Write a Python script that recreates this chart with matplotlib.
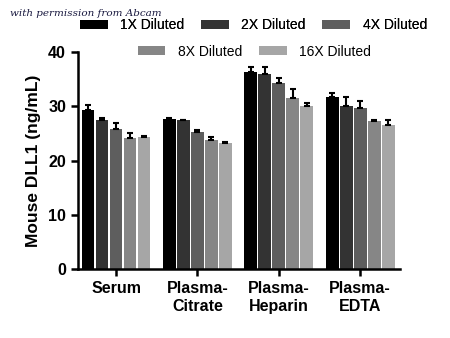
import numpy as np
import matplotlib.pyplot as plt
from matplotlib.patches import Patch

# ============================================================
# Data
# ============================================================
SAMPLES = ["Serum", "Plasma-\nCitrate", "Plasma-\nHeparin", "Plasma-\nEDTA"]
DILUTIONS = ["1X Diluted", "2X Diluted", "4X Diluted", "8X Diluted", "16X Diluted"]

MEAN_1X = [29.3, 27.6, 36.3, 31.7]
MEAN_2X = [27.4, 27.4, 35.9, 30.1]
MEAN_4X = [25.8, 25.3, 34.3, 29.6]
MEAN_8X = [24.2, 23.7, 31.5, 27.3]
MEAN_16X = [24.3, 23.3, 30.0, 26.6]

ERR_1X = [0.9, 0.3, 0.9, 0.7]
ERR_2X = [0.4, 0.1, 1.4, 1.6]
ERR_4X = [1.1, 0.3, 0.9, 1.3]
ERR_8X = [0.9, 0.7, 1.7, 0.2]
ERR_16X = [0.2, 0.1, 0.6, 0.9]

COLORS = ["#000000", "#333333", "#5e5e5e", "#868686", "#a6a6a6"]

plt.rcParams['font.family'] = ['Liberation Sans', 'DejaVu Sans']

# ============================================================
# Plot
# ============================================================
fig = plt.figure(figsize=(4.5, 3.38), dpi=100)
ax = fig.add_axes([0.173, 0.204, 0.716, 0.642])

means = [MEAN_1X, MEAN_2X, MEAN_4X, MEAN_8X, MEAN_16X]
errs = [ERR_1X, ERR_2X, ERR_4X, ERR_8X, ERR_16X]

x = np.arange(len(SAMPLES))
pitch = 0.172
width = 0.156

handles = []
for k, (m, e) in enumerate(zip(means, errs)):
    pos = x + (k - 2) * pitch
    ax.bar(pos, m, width=width, color=COLORS[k], zorder=2)
    ax.errorbar(pos, m, yerr=[np.zeros(len(e)), e], fmt='none',
                ecolor='black', elinewidth=1.5, capsize=2.2, capthick=1.5,
                zorder=3)
    handles.append(Patch(facecolor=COLORS[k], label=DILUTIONS[k]))

ax.set_xlim(-0.47, 3.49)
ax.set_ylim(0, 40)
ax.set_yticks([0, 10, 20, 30, 40])
ax.set_xticks(x)
ax.set_xticklabels(SAMPLES, fontsize=11.5, fontweight='bold', linespacing=1.25)
ax.tick_params(axis='y', labelsize=11.5, width=1.8, length=5)
ax.tick_params(axis='x', width=1.8, length=5)
for lab in ax.get_yticklabels():
    lab.set_fontweight('bold')

for side in ["top", "right"]:
    ax.spines[side].set_visible(False)
for side in ["left", "bottom"]:
    ax.spines[side].set_linewidth(1.8)

ax.set_ylabel("Mouse DLL1 (ng/mL)", fontsize=12.5, fontweight='bold', labelpad=5)

# two-row legend: 3 items then 2 items
leg1 = fig.legend(handles=handles[:3], loc='center', bbox_to_anchor=(0.563, 0.925),
                  ncol=3, frameon=False, fontsize=10, handlelength=2.0,
                  handleheight=0.6, columnspacing=1.2, handletextpad=0.9)
fig.legend(handles=handles[3:], loc='center', bbox_to_anchor=(0.565, 0.847),
           ncol=2, frameon=False, fontsize=10, handlelength=2.0,
           handleheight=0.6, columnspacing=1.2, handletextpad=0.9)
fig.add_artist(leg1)

fig.text(0.022, 0.952, "with permission from Abcam", fontsize=7.5,
         style='italic', family='DejaVu Serif', color='#1a1a40')

plt.savefig("out.png", dpi=100)
